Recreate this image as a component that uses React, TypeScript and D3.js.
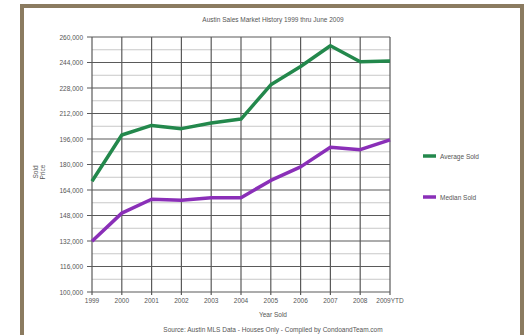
import React, { useEffect, useRef } from "react";
import * as d3 from "d3";

// Values
const years = ["1999", "2000", "2001", "2002", "2003", "2004", "2005", "2006", "2007", "2008", "2009YTD"];
const averageSold = [169500, 198500, 204500, 202500, 206000, 208500, 230000, 241500, 254500, 244500, 245000];
const medianSold = [131800, 149500, 158200, 157600, 159200, 159200, 170000, 178500, 190800, 189300, 195500];
const yTicks = [100000, 116000, 132000, 148000, 164000, 180000, 196000, 212000, 228000, 244000, 260000];

const seriesList = [
  { name: "Average Sold", values: averageSold, color: "#23884c" },
  { name: "Median Sold", values: medianSold, color: "#8a2fb8" },
];

const App: React.FC = () => {
  const ref = useRef<SVGSVGElement | null>(null);

  useEffect(() => {
    const svg = d3.select(ref.current);
    svg.selectAll("*").remove();

    const width = 529,
      height = 335;
    const margin = { top: 37, left: 92, right: 390, bottom: 292 };
    const font = "Liberation Sans, Arial, sans-serif";

    svg.append("rect").attr("width", width).attr("height", height).attr("fill", "#fff");

    // brown frame
    svg
      .append("rect")
      .attr("x", 22)
      .attr("y", 6)
      .attr("width", 500)
      .attr("height", 340)
      .attr("fill", "#fff")
      .attr("stroke", "#8b7b60")
      .attr("stroke-width", 4);

    const x = d3
      .scalePoint<string>()
      .domain(years)
      .range([margin.left, margin.right]);

    const y = d3
      .scaleLinear()
      .domain([100000, 260000])
      .range([margin.bottom, margin.top]);

    // minor horizontal grid
    const minor = d3.range(108000, 260000, 16000);
    svg
      .append("g")
      .selectAll("line")
      .data(minor)
      .enter()
      .append("line")
      .attr("x1", margin.left)
      .attr("x2", margin.right)
      .attr("y1", (d) => y(d))
      .attr("y2", (d) => y(d))
      .attr("stroke", "#c8c8c8")
      .attr("stroke-width", 1);

    // major horizontal grid
    svg
      .append("g")
      .selectAll("line")
      .data(yTicks)
      .enter()
      .append("line")
      .attr("x1", margin.left - 5)
      .attr("x2", margin.right)
      .attr("y1", (d) => y(d))
      .attr("y2", (d) => y(d))
      .attr("stroke", "#5a5a5a")
      .attr("stroke-width", 1.2);

    // vertical grid
    svg
      .append("g")
      .selectAll("line")
      .data(years)
      .enter()
      .append("line")
      .attr("x1", (d) => x(d) ?? 0)
      .attr("x2", (d) => x(d) ?? 0)
      .attr("y1", margin.top)
      .attr("y2", margin.bottom + 3)
      .attr("stroke", "#5a5a5a")
      .attr("stroke-width", 1.2);

    // y labels
    svg
      .append("g")
      .selectAll("text")
      .data(yTicks)
      .enter()
      .append("text")
      .attr("x", 83)
      .attr("y", (d) => y(d) + 2.5)
      .attr("text-anchor", "end")
      .attr("font-family", font)
      .attr("font-size", 6.5)
      .attr("fill", "#555")
      .text((d) => d3.format(",")(d));

    // x labels
    svg
      .append("g")
      .selectAll("text")
      .data(years)
      .enter()
      .append("text")
      .attr("x", (d) => x(d) ?? 0)
      .attr("y", 303)
      .attr("text-anchor", "middle")
      .attr("font-family", font)
      .attr("font-size", 6.5)
      .attr("fill", "#555")
      .text((d) => d);

    // lines
    const line = d3
      .line<number>()
      .x((_, i) => x(years[i]) ?? 0)
      .y((d) => y(d));

    seriesList.forEach((s) => {
      svg
        .append("path")
        .datum(s.values)
        .attr("d", line)
        .attr("fill", "none")
        .attr("stroke", s.color)
        .attr("stroke-width", 3.5)
        .attr("stroke-linejoin", "round");
    });

    // legend
    seriesList.forEach((s, i) => {
      const ly = 156 + i * 41;
      svg
        .append("line")
        .attr("x1", 423)
        .attr("x2", 436)
        .attr("y1", ly)
        .attr("y2", ly)
        .attr("stroke", s.color)
        .attr("stroke-width", 3.5);
      svg
        .append("text")
        .attr("x", 440)
        .attr("y", ly + 2.5)
        .attr("font-family", font)
        .attr("font-size", 6.5)
        .attr("fill", "#555")
        .text(s.name);
    });

    // titles
    const addText = (t: string, tx: number, ty: number) =>
      svg
        .append("text")
        .attr("x", tx)
        .attr("y", ty)
        .attr("text-anchor", "middle")
        .attr("font-family", font)
        .attr("font-size", 6.5)
        .attr("fill", "#555")
        .text(t);

    addText("Austin Sales Market History 1999 thru June 2009", 273, 22);
    addText("Year Sold", 273, 317);
    addText("Source: Austin MLS Data - Houses Only - Compiled by CondoandTeam.com", 273, 332);

    const yTitle = svg
      .append("text")
      .attr("transform", "translate(40,172) rotate(-90)")
      .attr("text-anchor", "middle")
      .attr("font-family", font)
      .attr("font-size", 6.5)
      .attr("fill", "#555");
    yTitle.append("tspan").attr("x", 0).attr("dy", -2).text("Sold");
    yTitle.append("tspan").attr("x", 0).attr("dy", 7).text("Price");
  }, []);

  return (
    <svg
      ref={ref}
      width={529}
      height={335}
      style={{ position: "absolute", left: 0, top: 0 }}
    ></svg>
  );
};

export default App;
